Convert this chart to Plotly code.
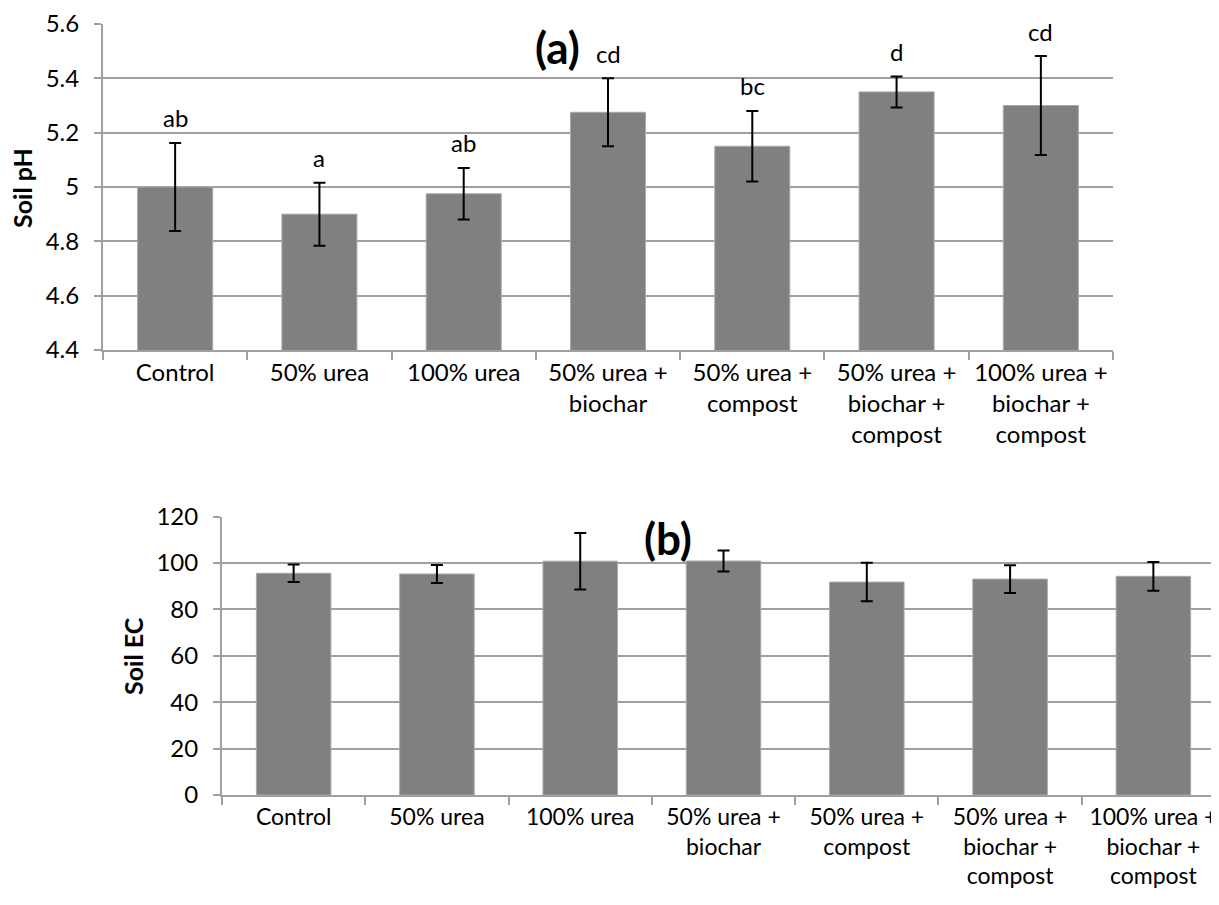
import plotly.graph_objects as go

categories = ["Control", "50% urea", "100% urea", "50% urea +<br>biochar",
              "50% urea +<br>compost", "50% urea +<br>biochar +<br>compost",
              "100% urea +<br>biochar +<br>compost"]

ph_values = [5.00, 4.90, 4.975, 5.275, 5.15, 5.35, 5.30]
ph_errors = [0.162, 0.116, 0.095, 0.125, 0.13, 0.057, 0.182]
ph_letters = ["ab", "a", "ab", "cd", "bc", "d", "cd"]

ec_values = [95.6, 95.3, 100.8, 100.9, 91.8, 93.1, 94.3]
ec_errors = [3.8, 3.9, 12.2, 4.5, 8.3, 6.0, 6.2]

ph_ticks = [4.4, 4.6, 4.8, 5.0, 5.2, 5.4, 5.6]
ph_ticktext = ["4.4", "4.6", "4.8", "5", "5.2", "5.4", "5.6"]
ec_ticks = [0, 20, 40, 60, 80, 100, 120]

# the page body has an 8px margin, so the figure is 8px smaller and positions are shifted
OFF = 8
W, H = 1219 - OFF, 905 - OFF
FONT = "Lato"
BAR = "#808080"
GRID = "#a0a0a0"


def px(x):
    return (x - OFF) / W


def py(y):
    return 1 - (y - OFF) / H


fig = go.Figure()

fig.add_trace(go.Bar(
    x=categories, y=ph_values,
    marker=dict(color=BAR, line=dict(color="#a8a8a8", width=1)),
    width=0.52,
    error_y=dict(type="data", array=ph_errors, color="black", thickness=2, width=6),
    xaxis="x", yaxis="y", showlegend=False, hoverinfo="skip"))

fig.add_trace(go.Bar(
    x=categories, y=ec_values,
    marker=dict(color=BAR, line=dict(color="#a8a8a8", width=1)),
    width=0.52,
    error_y=dict(type="data", array=ec_errors, color="black", thickness=2, width=6),
    xaxis="x2", yaxis="y2", showlegend=False, hoverinfo="skip"))

tickfont = dict(family=FONT, size=24, color="black")

common_x = dict(type="category", showgrid=False, showline=True, linecolor=GRID, linewidth=2,
                ticks="outside", tickson="boundaries", ticklen=8, tickcolor=GRID, tickwidth=2,
                tickfont=tickfont, zeroline=False, automargin=False, fixedrange=True)
common_y = dict(showgrid=True, gridcolor=GRID, gridwidth=2, showline=True, linecolor=GRID,
                linewidth=2, ticks="outside", ticklen=7, tickcolor=GRID, tickwidth=2,
                tickfont=tickfont, zeroline=False, ticklabelstandoff=10, automargin=False,
                fixedrange=True)

fig.update_layout(
    width=W, height=H, margin=dict(l=0, r=0, t=0, b=0, autoexpand=False),
    paper_bgcolor="white", plot_bgcolor="white", bargap=0.48,
    xaxis=dict(common_x, domain=[px(103), px(1113)], anchor="y", range=[-0.5, 6.5]),
    yaxis=dict(common_y, domain=[py(350), py(24)], anchor="x", range=[4.4, 5.6],
               tickvals=ph_ticks, ticktext=ph_ticktext),
    xaxis2=dict(common_x, domain=[px(222), 1.0], anchor="y2", range=[-0.5, 6.458],
                tickfont=dict(family=FONT, size=23, color="black")),
    yaxis2=dict(common_y, domain=[py(795), py(516.7)], anchor="x2", range=[0, 120],
                tickvals=ec_ticks),
)

annotations = []
for c, v, e, t in zip(categories, ph_values, ph_errors, ph_letters):
    annotations.append(dict(x=c, y=v + e, xref="x", yref="y", text=t, showarrow=False,
                            yanchor="middle", yshift=25, font=dict(family=FONT, size=24, color="black")))

annotations += [
    dict(x=px(557), y=py(47), xref="paper", yref="paper", text="<b>(a)</b>", showarrow=False,
         xanchor="center", yanchor="middle", font=dict(family=FONT, size=44, color="black")),
    dict(x=px(668), y=py(538), xref="paper", yref="paper", text="<b>(b)</b>", showarrow=False,
         xanchor="center", yanchor="middle", font=dict(family=FONT, size=44, color="black")),
    dict(x=px(22), y=py(188), xref="paper", yref="paper", text="<b>Soil pH</b>", showarrow=False,
         textangle=-90, xanchor="center", yanchor="middle", font=dict(family=FONT, size=25, color="black")),
    dict(x=px(133), y=py(656), xref="paper", yref="paper", text="<b>Soil EC</b>", showarrow=False,
         textangle=-90, xanchor="center", yanchor="middle", font=dict(family=FONT, size=25, color="black")),
]
fig.update_layout(annotations=annotations)

fig.write_html("out.html", config={"displayModeBar": False})
